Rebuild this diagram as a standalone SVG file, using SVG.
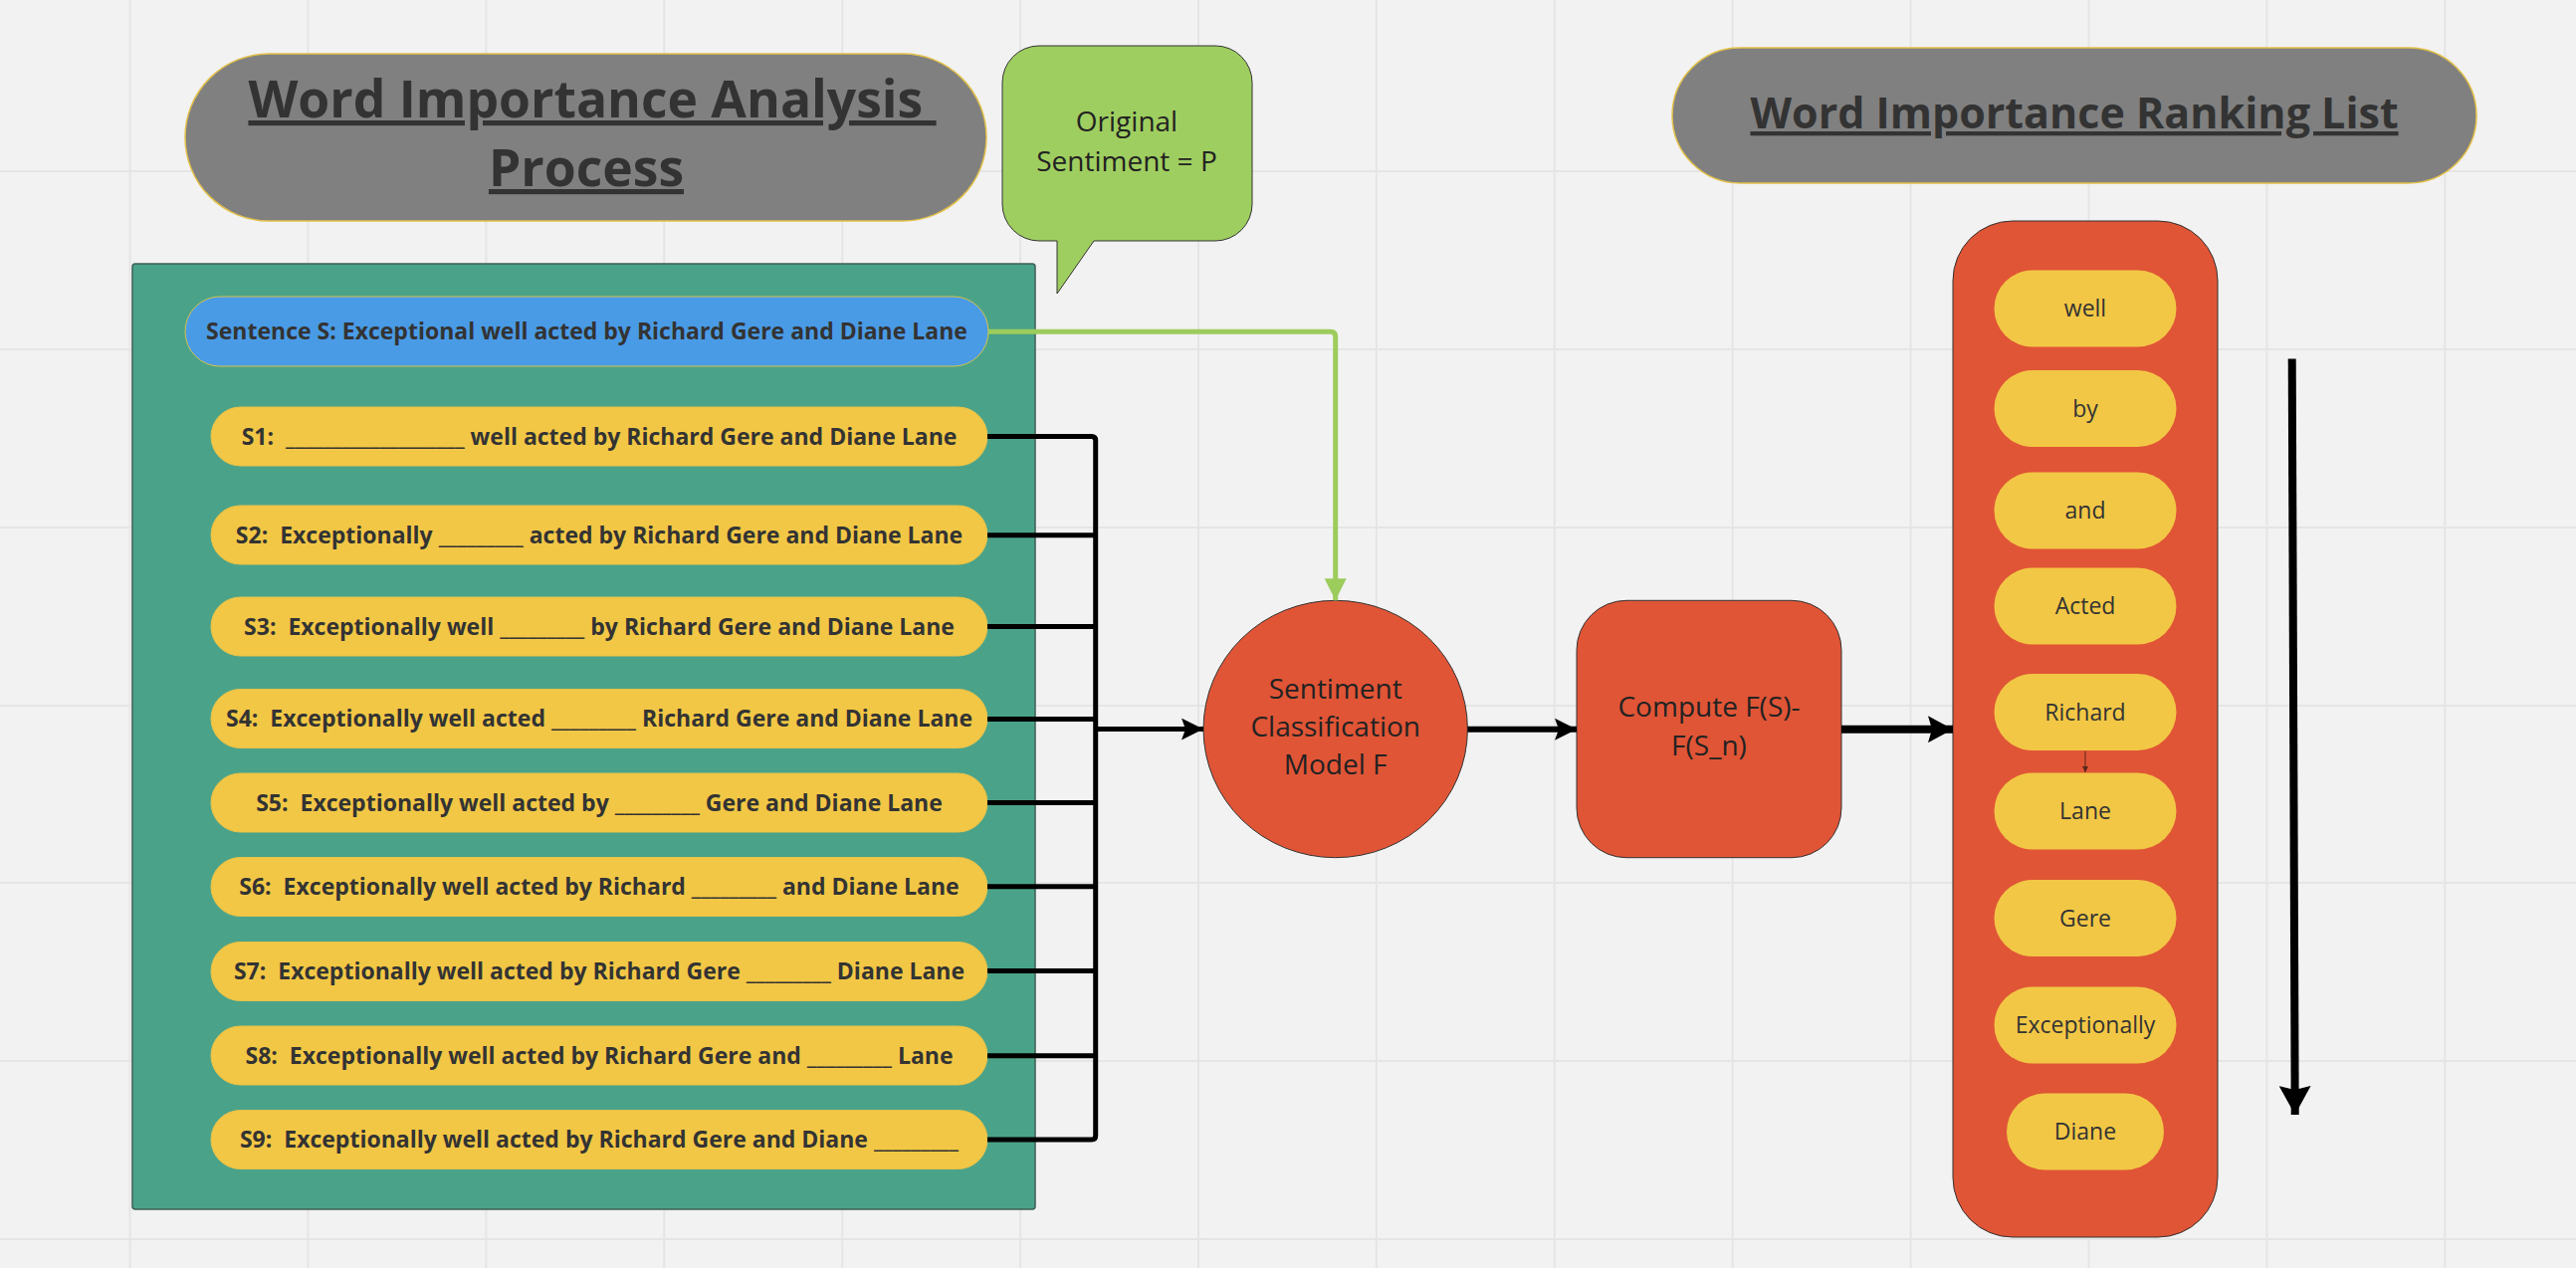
<svg xmlns="http://www.w3.org/2000/svg" width="2588" height="1274" viewBox="0 0 2588 1274">
<style>
.grid{stroke:#e5e5e5;stroke-width:2;fill:none}
.title{fill:#808080;stroke:#e2c04a;stroke-width:1.5}
.ttext{font-family:"Open Sans","Liberation Sans",sans-serif;font-weight:700;fill:#333;text-decoration:underline;white-space:pre}
.stext{font-family:"Open Sans","Liberation Sans",sans-serif;font-weight:700;font-size:23px;fill:#333;text-anchor:middle;white-space:pre}
.ntext{font-family:"Open Sans","Liberation Sans",sans-serif;font-size:28px;fill:#222;text-anchor:middle}
.wtext{font-family:"Open Sans","Liberation Sans",sans-serif;font-size:23px;fill:#333;text-anchor:middle}
.ypill{fill:#f2c745;stroke:#e9c24a;stroke-width:1}
.wpill{fill:#f2c745}
.red{fill:#e05536;stroke:#333;stroke-width:1}
.blk{stroke:#000;fill:none;stroke-linejoin:round}
</style>
<defs>
<marker id="ah" markerUnits="userSpaceOnUse" viewBox="0 0 22 22" markerWidth="22" markerHeight="22" refX="22" refY="11" orient="auto">
<path d="M0,0 L22,11 L0,22 L4,11 Z" fill="#000"/>
</marker>
<marker id="ah2" markerUnits="userSpaceOnUse" viewBox="0 0 25 27" markerWidth="25" markerHeight="27" refX="25" refY="13.5" orient="auto">
<path d="M0,0 L25,13.5 L0,27 L4,13.5 Z" fill="#000"/>
</marker>
<marker id="ah3" markerUnits="userSpaceOnUse" viewBox="0 0 29 32" markerWidth="29" markerHeight="32" refX="29" refY="16" orient="auto">
<path d="M0,0 L29,16 L0,32 L4,16 Z" fill="#000"/>
</marker>
<marker id="ahg" markerUnits="userSpaceOnUse" viewBox="0 0 22 22" markerWidth="22" markerHeight="22" refX="22" refY="11" orient="auto">
<path d="M0,0 L22,11 L0,22 Z" fill="#9ccc5c"/>
</marker>
<marker id="ahs" markerUnits="userSpaceOnUse" viewBox="0 0 6 6" markerWidth="6" markerHeight="6" refX="6" refY="3" orient="auto">
<path d="M0,0 L6,3 L0,6 Z" fill="#5a2a1a"/>
</marker>
</defs>
<rect x="0" y="0" width="2588" height="1274" fill="#f2f2f2"/>
<g id="grid">
<path class="grid" d="M130.6,0V1274M309.5,0V1274M488.4,0V1274M667.3,0V1274M846.2,0V1274M1025.1,0V1274M1204,0V1274M1382.9,0V1274M1561.8,0V1274M1740.7,0V1274M1919.6,0V1274M2098.5,0V1274M2277.4,0V1274M2456.3,0V1274M0,172H2588M0,351H2588M0,530H2588M0,709H2588M0,887H2588M0,1066H2588M0,1245H2588"/>
</g>
<g id="title-analysis">
<rect class="title" x="186" y="54" width="805" height="168" rx="84"/>
<text class="ttext" font-size="51.6" x="595" y="118" text-anchor="middle">Word Importance Analysis </text>
<text class="ttext" font-size="51.6" x="589" y="187" text-anchor="middle">Process</text>
</g>
<g id="title-ranking">
<rect class="title" x="1680" y="48" width="808" height="136" rx="68"/>
<text class="ttext" font-size="43" x="2084" y="129" text-anchor="middle">Word Importance Ranking List</text>
</g>
<g id="bubble">
<path d="M1044,46H1221A37,37 0 0 1 1258,83V205A37,37 0 0 1 1221,242H1099L1062,295V242H1044A37,37 0 0 1 1007,205V83A37,37 0 0 1 1044,46Z" fill="#9fce60" stroke="#333" stroke-width="1"/>
<text class="ntext" x="1132" y="132">Original</text>
<text class="ntext" x="1132" y="172">Sentiment = P</text>
</g>
<g id="container">
<rect x="133" y="265" width="907" height="950" rx="3" fill="#4aa388" stroke="#3f5f55" stroke-width="1.5"/>
</g>
<g id="sentence">
<rect x="186" y="298" width="807" height="70" rx="35" fill="#4a9be6" stroke="#d8c24a" stroke-width="1"/>
<text class="stext" x="589.5" y="341">Sentence S: Exceptional well acted by Richard Gere and Diane Lane</text>
</g>
<g id="s1"><rect class="ypill" x="212" y="409" width="780" height="59" rx="29.5"/><text class="stext" x="602" y="446.5">S1:  ___________________ well acted by Richard Gere and Diane Lane</text></g>
<g id="s2"><rect class="ypill" x="212" y="508" width="780" height="59" rx="29.5"/><text class="stext" x="602" y="545.5">S2:  Exceptionally _________ acted by Richard Gere and Diane Lane</text></g>
<g id="s3"><rect class="ypill" x="212" y="600" width="780" height="59" rx="29.5"/><text class="stext" x="602" y="637.5">S3:  Exceptionally well _________ by Richard Gere and Diane Lane</text></g>
<g id="s4"><rect class="ypill" x="212" y="692.5" width="780" height="59" rx="29.5"/><text class="stext" x="602" y="730">S4:  Exceptionally well acted _________ Richard Gere and Diane Lane</text></g>
<g id="s5"><rect class="ypill" x="212" y="777" width="780" height="59" rx="29.5"/><text class="stext" x="602" y="814.5">S5:  Exceptionally well acted by _________ Gere and Diane Lane</text></g>
<g id="s6"><rect class="ypill" x="212" y="861.5" width="780" height="59" rx="29.5"/><text class="stext" x="602" y="899">S6:  Exceptionally well acted by Richard _________ and Diane Lane</text></g>
<g id="s7"><rect class="ypill" x="212" y="946.5" width="780" height="59" rx="29.5"/><text class="stext" x="602" y="984">S7:  Exceptionally well acted by Richard Gere _________ Diane Lane</text></g>
<g id="s8"><rect class="ypill" x="212" y="1031" width="780" height="59" rx="29.5"/><text class="stext" x="602" y="1068.5">S8:  Exceptionally well acted by Richard Gere and _________ Lane</text></g>
<g id="s9"><rect class="ypill" x="212" y="1115.5" width="780" height="59" rx="29.5"/><text class="stext" x="602" y="1153">S9:  Exceptionally well acted by Richard Gere and Diane _________</text></g>
<g id="model">
<ellipse class="red" cx="1341.7" cy="732.5" rx="132.7" ry="129.2"/>
<text class="ntext" x="1341.7" y="702">Sentiment</text>
<text class="ntext" x="1341.7" y="740">Classification</text>
<text class="ntext" x="1341.7" y="778">Model F</text>
</g>
<g id="compute">
<rect class="red" x="1584" y="603.3" width="266" height="258.4" rx="50"/>
<text class="ntext" x="1717" y="720">Compute F(S)-</text>
<text class="ntext" x="1717" y="759">F(S_n)</text>
</g>
<g id="ranking">
<rect class="red" x="1962" y="222" width="266" height="1021" rx="60"/>
<rect class="wpill" x="2003.5" y="271.5" width="183" height="77" rx="38.5"/><text class="wtext" x="2095" y="318">well</text>
<rect class="wpill" x="2003.5" y="372" width="183" height="77" rx="38.5"/><text class="wtext" x="2095" y="418.5">by</text>
<rect class="wpill" x="2003.5" y="474.5" width="183" height="77" rx="38.5"/><text class="wtext" x="2095" y="521">and</text>
<rect class="wpill" x="2003.5" y="570.5" width="183" height="77" rx="38.5"/><text class="wtext" x="2095" y="617">Acted</text>
<rect class="wpill" x="2003.5" y="677" width="183" height="77" rx="38.5"/><text class="wtext" x="2095" y="723.5">Richard</text>
<rect class="wpill" x="2003.5" y="776.5" width="183" height="77" rx="38.5"/><text class="wtext" x="2095" y="823">Lane</text>
<rect class="wpill" x="2003.5" y="884" width="183" height="77" rx="38.5"/><text class="wtext" x="2095" y="930.5">Gere</text>
<rect class="wpill" x="2003.5" y="991.5" width="183" height="77" rx="38.5"/><text class="wtext" x="2095" y="1038">Exceptionally</text>
<rect class="wpill" x="2016" y="1098.5" width="158" height="77" rx="38.5"/><text class="wtext" x="2095" y="1145">Diane</text>
</g>
<g id="connectors">
<path d="M993,333.3H1336.7Q1341.7,333.3 1341.7,338.3V603.3" stroke="#9ccc5c" stroke-width="5" fill="none" marker-end="url(#ahg)"/>
<path class="blk" stroke-width="5" d="M992,438.5H1096.7Q1100.7,438.5 1100.7,442.5V1141Q1100.7,1145 1096.7,1145H992M992,537.8H1100.7M992,629.6H1100.7M992,722.4H1100.7M992,806.6H1100.7M992,890.8H1100.7M992,975.5H1100.7M992,1060.7H1100.7"/>
<path class="blk" stroke-width="5" d="M1100.7,732.6H1209" marker-end="url(#ah)"/>
<path class="blk" stroke-width="6" d="M1474.4,732.7H1584" marker-end="url(#ah)"/>
<path class="blk" stroke-width="8" d="M1850,732.7H1962" marker-end="url(#ah2)"/>
<path d="M2095,754.6V776" stroke="#5a2a1a" stroke-width="1" marker-end="url(#ahs)"/>
<path class="blk" stroke-width="8" d="M2302.7,360.6L2305.7,1120" marker-end="url(#ah3)"/>
</g>
</svg>
